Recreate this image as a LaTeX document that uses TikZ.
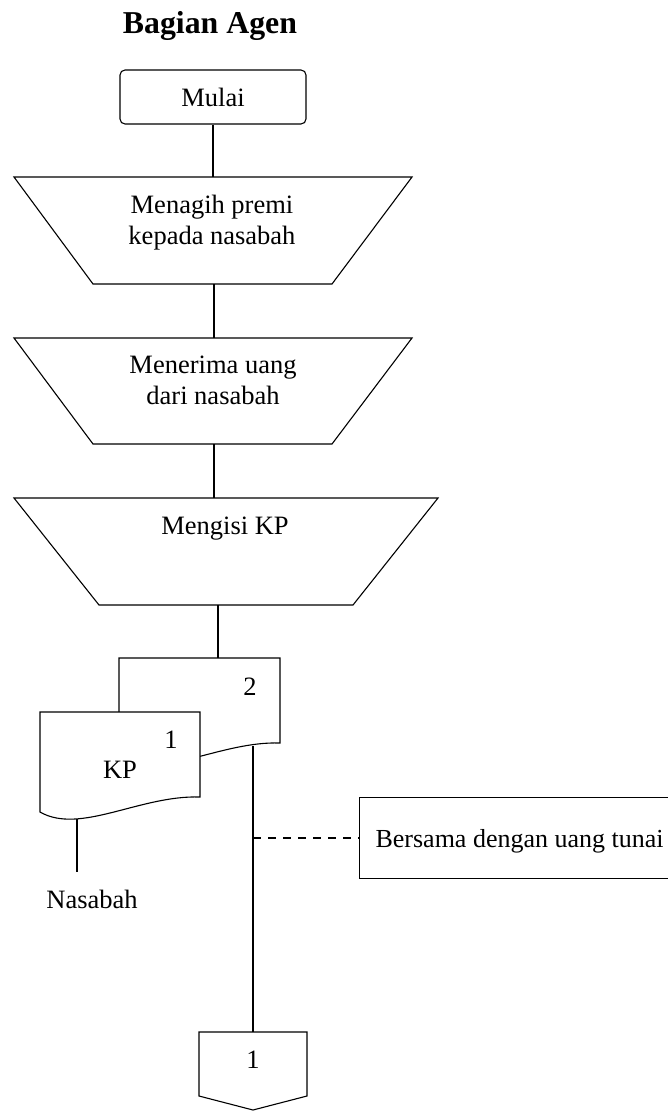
\documentclass[tikz,border=0pt]{standalone}
\usepackage{fontspec}
\setmainfont{Liberation Serif}
\begin{document}
\begin{tikzpicture}[x=1pt,y=-1pt,
  line width=1.1pt,
  txt/.style={font=\fontsize{26.5}{31}\selectfont, inner sep=0pt},
  titletxt/.style={font=\bfseries\fontsize{31.8}{36}\selectfont, inner sep=0pt},
  shapeln/.style={draw=black, fill=white, line width=1.1pt, line join=miter},
  terminal/.style={draw=black, rounded corners=5pt, minimum width=186pt, minimum height=54pt, txt},
  flow/.style={draw=black, line width=1.1pt},
  notebox/.style={draw=black, font=\fontsize{26}{31}\selectfont, inner ysep=0pt,
    inner xsep=16pt, minimum height=81pt, text depth=0pt},
  notelink/.style={draw=black, line width=1.1pt, dash pattern=on 8pt off 7pt}]
\useasboundingbox (0,0) rectangle (668,1111);

% heading
\node[titletxt, anchor=base] (title) at (210,33) {Bagian Agen};

% start
\node[terminal] (mulai) at (213,97) {Mulai};

% manual operations
\draw[shapeln] (14,177) -- (412,177) -- (332,284) -- (93,284) -- cycle;
\coordinate (p1in) at (213,177);
\coordinate (p1out) at (214,284);
\node[txt, align=center] (p1) at (212,222.5) {Menagih premi\\kepada nasabah};

\draw[shapeln] (14,338) -- (412,338) -- (332,444) -- (93,444) -- cycle;
\coordinate (p2in) at (214,338);
\coordinate (p2out) at (214,444);
\node[txt, align=center] (p2) at (213,380) {Menerima uang\\dari nasabah};

\draw[shapeln] (14,498) -- (438,498) -- (353,605) -- (99,605) -- cycle;
\coordinate (p3in) at (214,498);
\coordinate (p3out) at (218,605);
\node[txt] (p3) at (225,529) {Mengisi KP};

% documents: copy 2 behind copy 1
\draw[shapeln] (119,658) -- (280,658) -- (280,743)
  .. controls (220,741) and (159,781) .. (119,758) -- cycle;
\coordinate (d2in) at (218,658);
\coordinate (d2out) at (253,746);
\node[txt, anchor=base] (d2num) at (250,695) {2};

\draw[shapeln] (40,712) -- (200,712) -- (200,797)
  .. controls (140,795) and (80,835) .. (40,812) -- cycle;
\coordinate (d1out) at (77,819);
\node[txt, anchor=base] (d1num) at (171,748) {1};
\node[txt, anchor=base] (d1) at (120,778) {KP};

% destination of copy 1
\coordinate (d1end) at (77,872);
\node[txt, anchor=base] (nasabah) at (92,908) {Nasabah};

% off-page connector
\draw[shapeln] (199,1032) -- (307,1032) -- (307,1096) -- (253,1110) -- (199,1096) -- cycle;
\coordinate (offin) at (253,1032);
\node[txt, anchor=base] (off) at (253,1068) {1};

% annotation
\coordinate (tap) at (253,838);
\node[notebox, anchor=west] (note) at (359,838) {Bersama dengan uang tunai};

% connectors
\draw[flow] (mulai.south) -- (p1in);
\draw[flow] (p1out) -- (p2in);
\draw[flow] (p2out) -- (p3in);
\draw[flow] (p3out) -- (d2in);
\draw[flow] (d1out) -- (d1end);
\draw[flow] (d2out) -- (offin);
\draw[notelink] (tap) -- (note.west);
\end{tikzpicture}
\end{document}
